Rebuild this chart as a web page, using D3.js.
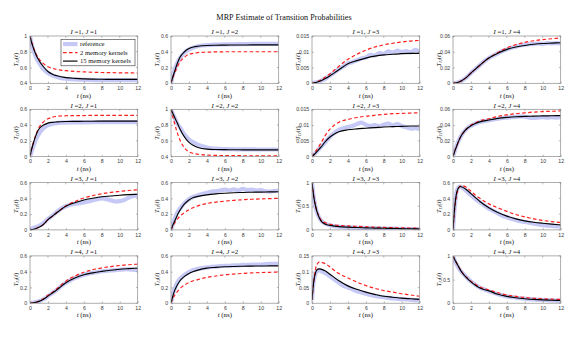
<!DOCTYPE html>
<html><head><meta charset="utf-8">
<script src="https://cdn.jsdelivr.net/npm/d3@7"></script>
<style>
html,body{margin:0;padding:0;background:#fff;}
svg{display:block;}
</style></head>
<body><svg id="c" width="568" height="343"></svg>
<script>
// ---------------- data ----------------
const tModel = [0,0.2,0.4,0.6,0.8,1,1.5,2,2.5,3,4,5,6,7,8,9,10,11,12];
const tRef = [0,0.25,0.5,0.75,1,1.5,2,2.5,3,3.5,4,4.5,5,5.5,6,6.5,7,7.5,8,8.5,9,9.5,10,10.5,11,11.5,12];
const xTicks = [0,2,4,6,8,10,12];
const rowI = [1,2,3,4];
const colJ = [1,2,3,4];
const yDomains = [
  [0.4,1],[0,0.6],[0,0.015],[0,0.06],
  [0,0.6],[0.4,1],[0,0.015],[0,0.06],
  [0,0.6],[0,0.6],[0,1],[0,0.6],
  [0,0.6],[0,0.6],[0,0.15],[0,1]
];
const yTicks = [
  [0.4,0.6,0.8,1],[0,0.2,0.4,0.6],[0,0.005,0.01,0.015],[0,0.02,0.04,0.06],
  [0,0.2,0.4,0.6],[0.4,0.6,0.8,1],[0,0.005,0.01,0.015],[0,0.02,0.04,0.06],
  [0,0.2,0.4,0.6],[0,0.2,0.4,0.6],[0,0.5,1],[0,0.2,0.4,0.6],
  [0,0.2,0.4,0.6],[0,0.2,0.4,0.6],[0,0.05,0.1,0.15],[0,0.5,1]
];
const seriesNames = ["reference","2 memory kernels","15 memory kernels"];

// 15 memory kernels (black), sampled at tModel
const k15 = [
  [1,0.91,0.84,0.78,0.73,0.69,0.61,0.55,0.515,0.495,0.472,0.462,0.456,0.453,0.451,0.45,0.45,0.45,0.45],
  [0,0.08,0.15,0.22,0.28,0.33,0.40,0.44,0.46,0.47,0.48,0.483,0.485,0.486,0.486,0.487,0.487,0.487,0.487],
  [0,0.0001,0.0002,0.0004,0.0006,0.0008,0.0015,0.0024,0.0033,0.0043,0.0062,0.0072,0.0080,0.0086,0.0090,0.0092,0.0094,0.0095,0.0095],
  [0,0.0002,0.0006,0.0013,0.0022,0.0034,0.0075,0.013,0.018,0.023,0.032,0.038,0.043,0.046,0.048,0.0495,0.0505,0.051,0.0515],
  [0,0.10,0.18,0.25,0.31,0.35,0.40,0.425,0.435,0.44,0.445,0.447,0.448,0.449,0.45,0.45,0.45,0.45,0.45],
  [1,0.95,0.90,0.85,0.80,0.75,0.65,0.58,0.54,0.515,0.495,0.49,0.488,0.487,0.486,0.486,0.486,0.486,0.486],
  [0,0.0005,0.0011,0.0017,0.0024,0.003,0.0048,0.0062,0.0072,0.0079,0.0085,0.0088,0.009,0.0092,0.0094,0.0095,0.0096,0.0097,0.0097],
  [0,0.007,0.013,0.019,0.024,0.028,0.035,0.039,0.042,0.044,0.0465,0.0485,0.0497,0.0505,0.051,0.0513,0.0516,0.0518,0.052],
  [0,0.003,0.008,0.015,0.024,0.033,0.07,0.13,0.175,0.22,0.30,0.345,0.38,0.402,0.42,0.43,0.44,0.447,0.452],
  [0,0.06,0.11,0.16,0.21,0.25,0.33,0.38,0.41,0.425,0.445,0.457,0.465,0.471,0.475,0.478,0.48,0.482,0.484],
  [1,0.70,0.50,0.36,0.26,0.19,0.12,0.095,0.08,0.07,0.058,0.05,0.044,0.039,0.035,0.031,0.027,0.024,0.021],
  [0,0.30,0.47,0.53,0.55,0.545,0.51,0.46,0.41,0.36,0.28,0.22,0.175,0.14,0.115,0.097,0.084,0.073,0.064],
  [0,0.002,0.005,0.01,0.016,0.023,0.05,0.09,0.13,0.17,0.26,0.32,0.36,0.385,0.403,0.418,0.43,0.438,0.445],
  [0,0.09,0.16,0.21,0.25,0.285,0.34,0.377,0.402,0.42,0.445,0.455,0.462,0.466,0.469,0.471,0.472,0.473,0.474],
  [0.01,0.07,0.097,0.107,0.109,0.108,0.102,0.092,0.081,0.071,0.055,0.044,0.035,0.028,0.022,0.019,0.016,0.014,0.012],
  [1,0.92,0.85,0.78,0.71,0.65,0.54,0.45,0.38,0.32,0.26,0.19,0.145,0.115,0.095,0.08,0.07,0.063,0.057]
];
// 2 memory kernels (red dashed), sampled at tModel
const k2 = [
  [1,0.92,0.85,0.79,0.745,0.71,0.65,0.61,0.59,0.575,0.56,0.55,0.545,0.54,0.537,0.535,0.533,0.532,0.53],
  [0,0.07,0.13,0.18,0.23,0.27,0.33,0.37,0.38,0.39,0.395,0.398,0.4,0.4,0.4,0.4,0.4,0.4,0.4],
  [0,0.0001,0.0003,0.0005,0.0008,0.0011,0.002,0.003,0.0042,0.0054,0.0076,0.0092,0.0105,0.0115,0.0122,0.0127,0.0131,0.0134,0.0136],
  [0,0.0002,0.0006,0.0013,0.0022,0.0034,0.0075,0.013,0.018,0.023,0.032,0.039,0.045,0.049,0.052,0.054,0.0555,0.0565,0.0575],
  [0,0.10,0.19,0.26,0.32,0.37,0.44,0.48,0.50,0.51,0.518,0.52,0.521,0.522,0.522,0.522,0.522,0.522,0.522],
  [1,0.91,0.82,0.74,0.67,0.61,0.51,0.46,0.44,0.43,0.42,0.415,0.413,0.412,0.411,0.41,0.41,0.41,0.41],
  [0,0.0008,0.0016,0.0025,0.0034,0.0043,0.0068,0.0087,0.0100,0.0109,0.0118,0.0124,0.0128,0.0131,0.0134,0.0136,0.0137,0.0138,0.0139],
  [0,0.007,0.013,0.019,0.024,0.028,0.035,0.040,0.043,0.0455,0.048,0.051,0.053,0.0545,0.0555,0.0565,0.057,0.0575,0.058],
  [0,0.003,0.008,0.015,0.024,0.033,0.07,0.13,0.175,0.22,0.305,0.36,0.405,0.435,0.458,0.475,0.488,0.50,0.51],
  [0,0.045,0.085,0.12,0.15,0.175,0.22,0.255,0.285,0.305,0.335,0.352,0.365,0.375,0.383,0.389,0.393,0.397,0.40],
  [1,0.70,0.50,0.37,0.28,0.21,0.15,0.12,0.105,0.095,0.085,0.075,0.066,0.058,0.052,0.047,0.043,0.039,0.036],
  [0,0.27,0.44,0.52,0.555,0.56,0.54,0.49,0.44,0.40,0.33,0.28,0.235,0.195,0.165,0.14,0.12,0.105,0.093],
  [0,0.002,0.005,0.01,0.017,0.025,0.055,0.10,0.14,0.185,0.28,0.345,0.393,0.425,0.447,0.465,0.478,0.488,0.495],
  [0,0.06,0.10,0.13,0.16,0.185,0.23,0.262,0.285,0.30,0.327,0.345,0.36,0.37,0.378,0.384,0.389,0.392,0.395],
  [0.01,0.07,0.11,0.125,0.13,0.13,0.125,0.115,0.104,0.094,0.08,0.067,0.056,0.047,0.04,0.035,0.03,0.026,0.022],
  [1,0.92,0.85,0.78,0.72,0.66,0.55,0.465,0.40,0.34,0.28,0.22,0.175,0.145,0.12,0.105,0.093,0.085,0.08]
];
// reference (light blue band), sampled at tRef
const ref = [
  [1,0.87,0.78,0.71,0.66,0.58,0.53,0.50,0.48,0.465,0.457,0.452,0.448,0.446,0.444,0.443,0.442,0.441,0.44,0.44,0.44,0.44,0.44,0.44,0.44,0.44,0.44],
  [0,0.12,0.20,0.27,0.32,0.39,0.43,0.455,0.47,0.48,0.485,0.488,0.49,0.492,0.493,0.494,0.495,0.496,0.497,0.498,0.499,0.5,0.5,0.5,0.5,0.5,0.5],
  [0,0.0002,0.0003,0.0005,0.0008,0.0015,0.0025,0.0034,0.0045,0.0053,0.0063,0.0067,0.0073,0.0079,0.0082,0.0090,0.0088,0.0096,0.0093,0.0101,0.0097,0.0104,0.0099,0.0102,0.0098,0.0106,0.0100],
  [0,0.0004,0.0010,0.0020,0.0034,0.0075,0.0130,0.0180,0.0230,0.0280,0.0320,0.0350,0.0380,0.0410,0.0430,0.0450,0.0465,0.0480,0.0490,0.0495,0.0500,0.0505,0.0500,0.0510,0.0505,0.0510,0.0505],
  [0,0.09,0.17,0.24,0.29,0.36,0.40,0.415,0.425,0.43,0.432,0.433,0.434,0.434,0.435,0.435,0.436,0.436,0.436,0.437,0.437,0.437,0.437,0.437,0.437,0.437,0.437],
  [1,0.93,0.87,0.81,0.77,0.68,0.62,0.58,0.55,0.53,0.515,0.505,0.5,0.497,0.495,0.494,0.493,0.492,0.492,0.491,0.491,0.49,0.49,0.49,0.49,0.49,0.49],
  [0,0.0008,0.0015,0.0023,0.003,0.0047,0.0063,0.0075,0.0085,0.009,0.0094,0.0097,0.0103,0.0108,0.0101,0.0097,0.0100,0.0096,0.0101,0.0105,0.0099,0.0103,0.0097,0.0093,0.0089,0.0090,0.0088],
  [0,0.009,0.017,0.023,0.028,0.035,0.039,0.042,0.044,0.045,0.046,0.047,0.048,0.049,0.0495,0.050,0.0505,0.051,0.0505,0.0495,0.049,0.0495,0.050,0.0495,0.050,0.0495,0.050],
  [0,0.02,0.03,0.04,0.05,0.085,0.14,0.18,0.23,0.27,0.30,0.32,0.33,0.34,0.35,0.36,0.375,0.39,0.40,0.39,0.375,0.36,0.365,0.38,0.41,0.43,0.44],
  [0,0.09,0.17,0.23,0.27,0.34,0.39,0.42,0.44,0.455,0.47,0.485,0.49,0.50,0.51,0.50,0.515,0.50,0.52,0.505,0.51,0.50,0.505,0.49,0.485,0.495,0.50],
  [1,0.62,0.40,0.28,0.20,0.13,0.10,0.08,0.07,0.062,0.055,0.05,0.046,0.042,0.04,0.036,0.034,0.032,0.03,0.028,0.026,0.024,0.022,0.02,0.018,0.017,0.016],
  [0,0.35,0.52,0.55,0.54,0.49,0.44,0.39,0.35,0.31,0.27,0.24,0.21,0.18,0.16,0.14,0.125,0.11,0.10,0.09,0.08,0.07,0.06,0.055,0.05,0.045,0.04],
  [0,0.004,0.01,0.017,0.025,0.05,0.09,0.13,0.17,0.22,0.26,0.29,0.32,0.34,0.36,0.375,0.385,0.395,0.405,0.41,0.415,0.42,0.425,0.43,0.43,0.425,0.42],
  [0,0.13,0.21,0.27,0.31,0.36,0.395,0.42,0.435,0.445,0.455,0.46,0.465,0.47,0.475,0.475,0.48,0.48,0.485,0.485,0.49,0.49,0.49,0.495,0.5,0.5,0.5],
  [0.01,0.08,0.10,0.105,0.102,0.095,0.085,0.075,0.065,0.055,0.05,0.044,0.038,0.034,0.03,0.026,0.023,0.021,0.019,0.017,0.015,0.014,0.013,0.012,0.011,0.01,0.01],
  [1,0.88,0.79,0.71,0.65,0.55,0.46,0.39,0.33,0.29,0.25,0.22,0.19,0.165,0.145,0.13,0.115,0.105,0.095,0.085,0.08,0.075,0.07,0.065,0.06,0.055,0.055]
];

// ---------------- drawing ----------------
const svg = d3.select("#c");
const serif = "'Liberation Serif','DejaVu Serif',serif";
const sans = "'Liberation Sans',Arial,sans-serif";
const refColor = "#c6c9f6", redColor = "#ff1f1f", blkColor = "#000";
const axColor = "#8a8a8a", tickTxt = "#3a3a3a";

const left0 = 30, colStep = 141, pw = 107.7;
const top0 = 36, rowStep = 73.3, ph = 47.3;

svg.append("text").attr("x", 284).attr("y", 19.5).attr("text-anchor","middle")
  .attr("font-family", serif).attr("font-size", 8.2).attr("fill","#111")
  .text("MRP Estimate of Transition Probabilities");

const x = d3.scaleLinear().domain([0,12]);

rowI.forEach((I, r) => {
  colJ.forEach((J, c) => {
    const k = r*4 + c;
    const gx = left0 + c*colStep, gy = top0 + r*rowStep;
    const g = svg.append("g").attr("transform", `translate(${gx},${gy})`);
    const xs = x.copy().range([0, pw]);
    const ys = d3.scaleLinear().domain(yDomains[k]).range([ph, 0]);

    g.append("rect").attr("width", pw).attr("height", ph).attr("fill", "#fff");
    const clipId = "clip" + k;
    g.append("clipPath").attr("id", clipId).append("rect").attr("width", pw).attr("height", ph);
    const plot = g.append("g").attr("clip-path", `url(#${clipId})`);

    const line = (ts) => d3.line().x((d,i) => xs(ts[i])).y(d => ys(d));
    plot.append("path").datum(ref[k]).attr("d", line(tRef).curve(d3.curveCatmullRom)(ref[k]))
      .attr("fill","none").attr("stroke", refColor).attr("stroke-width", 4.2).attr("stroke-linejoin","round");
    plot.append("path").attr("d", line(tModel).curve(d3.curveMonotoneX)(k2[k]))
      .attr("fill","none").attr("stroke", redColor).attr("stroke-width", 1.2).attr("stroke-dasharray","3.6,2.4");
    plot.append("path").attr("d", line(tModel).curve(d3.curveMonotoneX)(k15[k]))
      .attr("fill","none").attr("stroke", blkColor).attr("stroke-width", 1.15);

    // axes
    const fmt = d3.format("~g");
    const xAx = g.append("g").attr("transform", `translate(0,${ph})`)
      .call(d3.axisBottom(xs).tickValues(xTicks).tickSize(-1.8).tickPadding(3.2).tickFormat(fmt));
    const yAx = g.append("g")
      .call(d3.axisLeft(ys).tickValues(yTicks[k]).tickSize(-1.8).tickPadding(2.8).tickFormat(fmt));
    [xAx, yAx].forEach(a => {
      a.select(".domain").remove();
      a.selectAll("line").attr("stroke", axColor).attr("stroke-width", 0.6);
      a.selectAll("text").attr("font-family", sans).attr("font-size", 5.2).attr("fill", tickTxt);
    });
    // top/right ticks (box ticks)
    xTicks.forEach(t => g.append("line").attr("x1", xs(t)).attr("x2", xs(t)).attr("y1", 0).attr("y2", 1.8)
      .attr("stroke", axColor).attr("stroke-width", 0.6));
    yTicks[k].forEach(t => g.append("line").attr("x1", pw).attr("x2", pw-1.8).attr("y1", ys(t)).attr("y2", ys(t))
      .attr("stroke", axColor).attr("stroke-width", 0.6));
    g.append("rect").attr("width", pw).attr("height", ph).attr("fill","none")
      .attr("stroke", axColor).attr("stroke-width", 0.7);

    // panel title
    const tt = g.append("text").attr("x", pw/2).attr("y", -1.6).attr("text-anchor","middle")
      .attr("font-family", serif).attr("font-size", 6.8).attr("fill","#111");
    tt.append("tspan").attr("font-style","italic").text("I");
    tt.append("tspan").text(" =" + I + ", ");
    tt.append("tspan").attr("font-style","italic").text("J");
    tt.append("tspan").text(" =" + J);

    // x label
    const xl = g.append("text").attr("x", pw/2).attr("y", ph + 14.2).attr("text-anchor","middle")
      .attr("font-family", serif).attr("font-size", 6.8).attr("fill","#111");
    xl.append("tspan").attr("font-style","italic").text("t");
    xl.append("tspan").text(" (ns)");

    // y label
    const yl = g.append("text").attr("transform", `translate(${-12.5},${ph/2}) rotate(-90)`)
      .attr("text-anchor","middle").attr("font-family", serif).attr("font-size", 6.6).attr("fill","#111");
    yl.append("tspan").attr("font-style","italic").text("T");
    yl.append("tspan").attr("font-style","italic").attr("font-size", 4.6).attr("dy", 1.6).text("IJ");
    yl.append("tspan").attr("dy", -1.6).text("(");
    yl.append("tspan").attr("font-style","italic").text("t");
    yl.append("tspan").text(")");
  });
});

// legend in first panel
const lg = svg.append("g").attr("transform", "translate(61,39.3)");
lg.append("rect").attr("width", 74).attr("height", 26.5).attr("fill","#fff")
  .attr("stroke", "#333").attr("stroke-width", 0.6);
const legStyles = [
  {c: refColor, w: 4.2, d: null},
  {c: redColor, w: 1.2, d: "3.6,2.4"},
  {c: blkColor, w: 1.15, d: null}
];
seriesNames.forEach((n, i) => {
  const yy = 4.8 + i*8.5;
  lg.append("line").attr("x1", 2).attr("x2", 16.5).attr("y1", yy).attr("y2", yy)
    .attr("stroke", legStyles[i].c).attr("stroke-width", legStyles[i].w)
    .attr("stroke-dasharray", legStyles[i].d);
  lg.append("text").attr("x", 19).attr("y", yy + 2.1).attr("font-family", serif)
    .attr("font-size", 6.6).attr("fill","#111").text(n);
});
</script></body></html>
